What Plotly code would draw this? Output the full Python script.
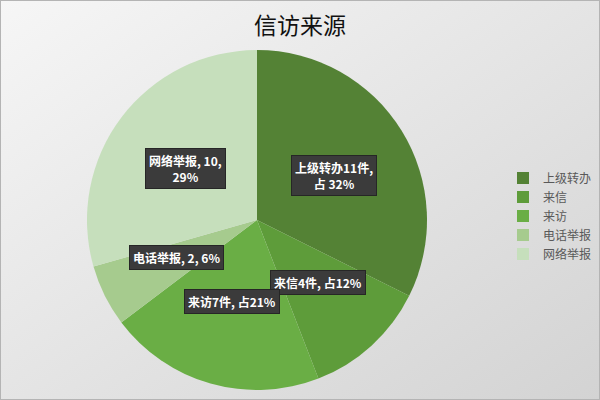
import math
import plotly.graph_objects as go

# Petition sources
categories = ["上级转办", "来信", "来访", "电话举报", "网络举报"]
counts = [11, 4, 7, 2, 10]
label_texts = ["上级转办11件,<br>占 32%", "来信4件, 占12%", "来访7件, 占21%",
               "电话举报, 2, 6%", "网络举报, 10,<br>29%"]
colors = ["#548235", "#5e9c3a", "#6aae45", "#a6cb8e", "#c6dfbc"]

W, H = 600, 400
cx, cy, R = 257, 220, 170  # pie centre and radius in pixels

fig = go.Figure()

# Light grey diagonal gradient behind the chart
grad_svg = (
    "data:image/svg+xml;utf8,"
    "<svg xmlns='http://www.w3.org/2000/svg' width='600' height='400'>"
    "<defs><linearGradient id='g' x1='0' y1='0' x2='1' y2='1'>"
    "<stop offset='0' stop-color='%23f6f6f6'/>"
    "<stop offset='1' stop-color='%23d3d3d3'/>"
    "</linearGradient></defs>"
    "<rect width='600' height='400' fill='url(%23g)'/>"
    "<rect x='0.5' y='0.5' width='599' height='399' fill='none' stroke='%23b4b4b4'/>"
    "</svg>"
)

fig.add_trace(go.Pie(
    labels=categories,
    values=counts,
    sort=False,
    direction="clockwise",
    rotation=0,
    marker=dict(colors=colors, line=dict(width=0)),
    textinfo="none",
    hoverinfo="label+value+percent",
    domain=dict(x=[(cx - R) / W, (cx + R) / W],
                y=[(H - (cy + R)) / H, (H - (cy - R)) / H]),
))

# Dark label boxes placed along each slice's mid-angle
total = sum(counts)
cum = 0.0
annotations = []
for v, txt in zip(counts, label_texts):
    mid = (cum + v / 2) / total * 2 * math.pi
    cum += v
    px = cx + 0.53 * R * math.sin(mid)
    py = cy - 0.50 * R * math.cos(mid)
    annotations.append(dict(
        x=px / W, y=(H - py) / H, xref="paper", yref="paper",
        xanchor="center", yanchor="middle",
        text="<b>" + txt + "</b>", showarrow=False, align="center",
        font=dict(family="Noto Sans CJK SC", size=12, color="#ffffff"),
        bgcolor="#3b3b3b", bordercolor="#262626", borderwidth=1, borderpad=3,
    ))

fig.update_layout(
    width=W, height=H,
    margin=dict(l=0, r=0, t=0, b=0),
    paper_bgcolor="#ececec",
    plot_bgcolor="rgba(0,0,0,0)",
    images=[dict(source=grad_svg, xref="paper", yref="paper", x=0, y=1,
                 sizex=1, sizey=1, xanchor="left", yanchor="top",
                 sizing="stretch", layer="below")],
    title=dict(text="信访来源", x=0.5, xanchor="center", y=0.935, yanchor="middle",
               font=dict(family="Noto Sans CJK SC", size=23, color="#111111")),
    legend=dict(x=0.995, y=0.46, xanchor="right", yanchor="middle",
                font=dict(family="Noto Sans CJK SC", size=12, color="#595959"),
                bgcolor="rgba(0,0,0,0)", itemwidth=30, tracegroupgap=0),
    annotations=annotations,
    showlegend=True,
)

fig.write_html("out.html")
